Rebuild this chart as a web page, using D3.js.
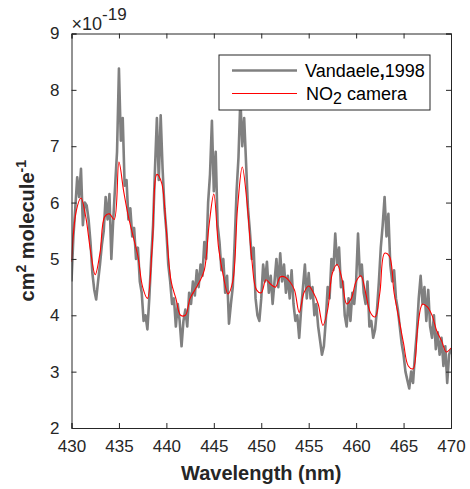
<!DOCTYPE html>
<html><head><meta charset="utf-8">
<script src="https://cdn.jsdelivr.net/npm/d3@7"></script>
<style>
body{margin:0;background:#fff;}
text{font-family:"Liberation Sans",Arial,sans-serif;}
</style></head>
<body><svg id="c" width="470" height="489"></svg>
<script>
// Vandaele 1998 cross section (x1e-19 cm2/molecule), 0.2 nm steps from 430 nm
const vandaeleStart = 430, vandaeleStep = 0.2;
const vandaele = [
4.6,5.4,5.9,6.45,6.1, 6.6,5.6,6.0,5.95,5.7,
5.3,4.75,4.45,4.28,4.6, 4.9,5.25,5.5,6.1,5.7,
6.15,5.0,5.7,6.3,6.9, 8.38,7.1,7.5,6.3,6.4,
5.7,5.9,5.4,5.55,5.0, 5.2,4.6,4.4,3.9,4.0,
3.75,4.3,5.0,5.6,6.6, 7.5,6.4,7.55,6.6,5.9,
5.5,4.9,4.6,4.2,4.3, 3.8,4.2,3.9,3.45,3.9,
4.1,3.8,4.4,4.2,4.6, 4.35,4.8,4.5,4.9,4.7,
5.3,5.0,6.0,6.5,7.45, 6.2,6.9,5.6,5.3,4.8,
5.0,4.4,4.7,3.85,4.2, 4.5,5.3,6.2,6.8,7.85,
7.0,7.5,6.7,5.9,5.5, 5.0,5.2,4.3,4.0,3.9,
4.3,4.9,4.6,4.95,4.4, 4.7,4.2,4.6,5.0,4.5,
5.1,4.6,4.9,4.4,4.7, 4.3,4.8,4.2,3.9,4.0,
3.6,4.1,4.5,4.9,4.3, 4.75,4.3,4.5,4.0,4.2,
3.8,3.55,3.3,3.45,3.9, 4.5,4.3,5.0,4.8,5.45,
4.9,5.2,4.5,4.6,4.0, 3.8,4.3,3.9,4.4,4.2,
4.6,5.45,4.7,4.9,4.4, 4.2,4.6,3.8,3.9,3.6,
3.75,4.1,4.6,5.2,5.6, 6.1,5.4,5.8,4.9,4.6,
4.8,4.3,4.1,3.8,3.5, 3.3,3.0,2.85,2.7,3.0,
2.8,3.3,3.7,4.3,4.7, 4.2,4.5,3.9,4.45,3.8,
3.6,4.0,3.4,3.7,3.3, 3.6,3.1,3.45,2.8,3.3,
3.4
];
// NO2 camera cross section, 0.5 nm steps from 430 nm
const cameraStart = 430, cameraStep = 0.5;
const camera = [
4.95,5.85,6.08,5.75,5.15,4.72,5.1,5.75,5.8,5.7,
6.72,6.2,5.75,5.4,5.05,4.5,4.3,5.2,6.5,6.35,
5.5,4.6,4.3,4.0,4.0,4.3,4.45,4.6,4.8,5.6,
6.15,5.2,4.7,4.38,4.6,5.9,6.63,6.0,5.0,4.45,
4.4,4.63,4.55,4.5,4.68,4.68,4.6,4.45,4.05,4.4,
4.52,4.4,4.2,3.82,4.1,4.75,4.9,4.65,4.2,4.3,
4.6,4.7,4.4,4.05,3.97,4.4,5.1,5.05,4.4,3.95,
3.5,3.1,3.05,3.8,4.2,4.15,4.0,3.72,3.55,3.35,
3.42
];
const xTicks = [430,435,440,445,450,455,460,465,470];
const yTicks = [2,3,4,5,6,7,8,9];
const seriesColors = ["#808080","#ff0000"];

const svg = d3.select("#c");
const L = 71.5, R = 451, T = 33.5, B = 428;
const x = d3.scaleLinear().domain([430,470]).range([L,R]);
const y = d3.scaleLinear().domain([2,9]).range([B,T]);
const axisCol = "#262626";

svg.append("defs").append("clipPath").attr("id","clip")
  .append("rect").attr("x",L).attr("y",T).attr("width",R-L).attr("height",B-T);

const gData = vandaele.map((v,i)=>({w:vandaeleStart+i*vandaeleStep, v}));
const cData = camera.map((v,i)=>({w:cameraStart+i*cameraStep, v}));

const plot = svg.append("g").attr("clip-path","url(#clip)");
plot.append("path").datum(gData)
  .attr("d", d3.line().x(d=>x(d.w)).y(d=>y(d.v)))
  .attr("fill","none").attr("stroke",seriesColors[0]).attr("stroke-width",2.6).attr("stroke-linejoin","round");
plot.append("path").datum(cData)
  .attr("d", d3.line().x(d=>x(d.w)).y(d=>y(d.v)).curve(d3.curveCatmullRom.alpha(0.5)))
  .attr("fill","none").attr("stroke",seriesColors[1]).attr("stroke-width",1.1);

// axes (ticks inward, box)
const fs = "17px";
const axB = svg.append("g").attr("transform",`translate(0,${B})`)
  .call(d3.axisBottom(x).tickValues(xTicks).tickSize(-5).tickPadding(12).tickFormat(d3.format("d")));
const axT = svg.append("g").attr("transform",`translate(0,${T})`)
  .call(d3.axisTop(x).tickValues(xTicks).tickSize(-5).tickFormat(""));
const axL = svg.append("g").attr("transform",`translate(${L},0)`)
  .call(d3.axisLeft(y).tickValues(yTicks).tickSize(-5).tickPadding(12).tickFormat(d3.format("d")));
const axR = svg.append("g").attr("transform",`translate(${R},0)`)
  .call(d3.axisRight(y).tickValues(yTicks).tickSize(-5).tickFormat(""));
[axB,axT,axL,axR].forEach(a=>{
  a.selectAll("path.domain").attr("stroke",axisCol).attr("stroke-width",1);
  a.selectAll(".tick line").attr("stroke",axisCol);
  a.selectAll("text").attr("fill",axisCol).style("font-size",fs).style("font-family","'Liberation Sans',Arial,sans-serif");
});
axB.selectAll("text").attr("dy","0.71em");

// exponent
const ex = svg.append("text").attr("x",L).attr("y",30).attr("fill",axisCol).style("font-size","18px");
ex.append("tspan").text("\u00d710");
ex.append("tspan").attr("dy",-10).style("font-size","17px").text("-19");

// axis labels
svg.append("text").attr("x",(L+R)/2).attr("y",480).attr("text-anchor","middle")
  .attr("fill",axisCol).style("font-size","20px").style("font-weight","bold").text("Wavelength (nm)");
const yl = svg.append("text").attr("transform",`translate(34,${(T+B)/2}) rotate(-90)`)
  .attr("text-anchor","middle").attr("fill",axisCol).style("font-size","20px").style("font-weight","bold");
yl.append("tspan").text("cm");
yl.append("tspan").attr("dy",-8).style("font-size","14px").text("2");
yl.append("tspan").attr("dy",8).text(" molecule");
yl.append("tspan").attr("dy",-8).style("font-size","14px").text("-1");

// legend
const lg = svg.append("g");
lg.append("rect").attr("x",219).attr("y",55).attr("width",211).attr("height",55)
  .attr("fill","#fff").attr("stroke",axisCol).attr("stroke-width",1);
lg.append("line").attr("x1",232).attr("x2",297).attr("y1",70.5).attr("y2",70.5)
  .attr("stroke",seriesColors[0]).attr("stroke-width",2.6);
lg.append("line").attr("x1",232).attr("x2",297).attr("y1",93.5).attr("y2",93.5)
  .attr("stroke",seriesColors[1]).attr("stroke-width",1.1);
const t1 = lg.append("text").attr("x",305).attr("y",77).attr("fill","#000").style("font-size","18px");
t1.append("tspan").text("Vandaele");
t1.append("tspan").style("font-weight","bold").text(",");
t1.append("tspan").text("1998");
const t2 = lg.append("text").attr("x",306).attr("y",100).attr("fill","#000").style("font-size","18px");
t2.append("tspan").text("NO");
t2.append("tspan").attr("dy",4).style("font-size","16px").text("2");
t2.append("tspan").attr("dy",-4).text(" camera");
</script></body></html>
